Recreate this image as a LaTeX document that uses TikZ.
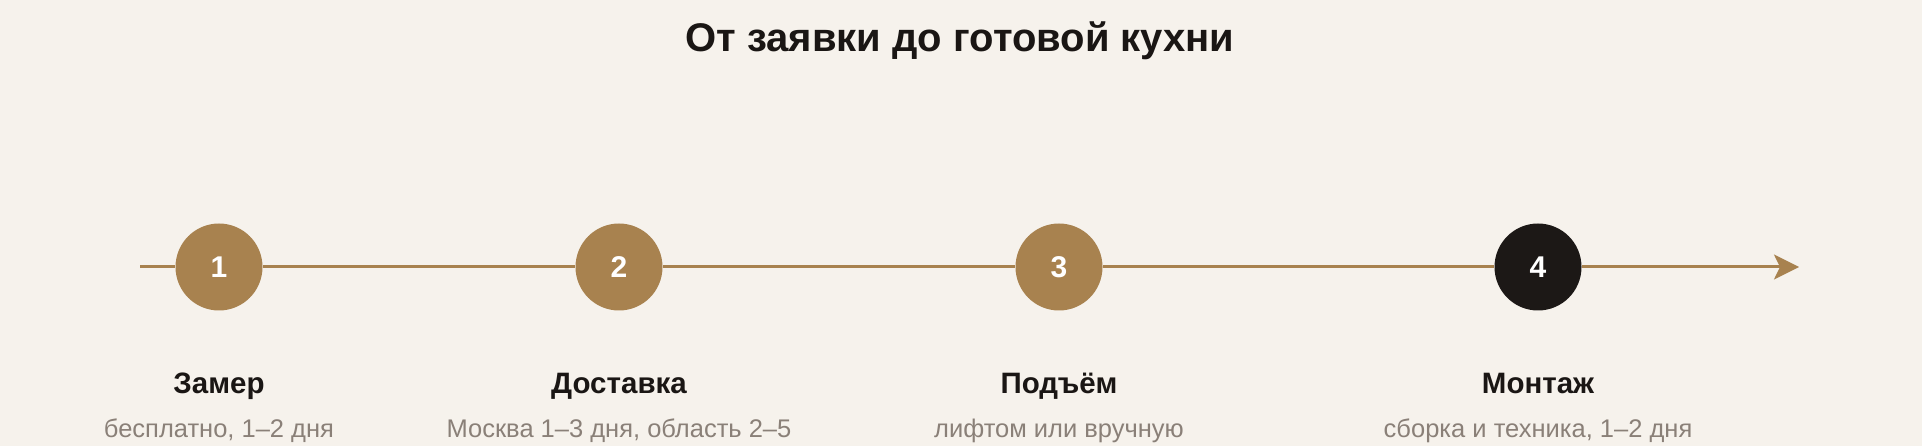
\documentclass[tikz,border=0pt]{standalone}
\usepackage{fontspec}
\setmainfont{Liberation Sans}
\usetikzlibrary{arrows.meta,positioning}
\definecolor{bgcol}{HTML}{F6F2EC}
\definecolor{brown}{HTML}{A8824F}
\definecolor{darkstep}{HTML}{1C1816}
\definecolor{inkcol}{HTML}{1A1614}
\definecolor{notecol}{HTML}{8A8078}
\begin{document}
\begin{tikzpicture}[x=1pt, y=-1pt,
    stepdot/.style={circle, fill=brown, minimum size=87pt, inner sep=0pt, text=white,
        font=\fontsize{30}{34}\selectfont\bfseries},
    steptitle/.style={anchor=base, text=inkcol, font=\fontsize{29.5}{34}\selectfont\bfseries},
    stepnote/.style={anchor=base, text=notecol, font=\fontsize{25.5}{30}\selectfont},
    timeline/.style={draw=brown, line width=3pt}]
\fill[bgcol] (0,0) rectangle (1922,446);
\useasboundingbox (0,0) rectangle (1922,446);

\node[anchor=base, text=inkcol, font=\fontsize{40}{48}\selectfont\bfseries] (title) at (960,52) {От заявки до готовой кухни};

\coordinate (start) at (140,267);
\coordinate (end) at (1799,267);

\foreach \x/\n/\col/\name/\note in {219/1/brown/Замер/{бесплатно, 1–2 дня},
    619/2/brown/Доставка/{Москва 1–3 дня, область 2–5},
    1059/3/brown/Подъём/{лифтом или вручную},
    1538/4/darkstep/Монтаж/{сборка и техника, 1–2 дня}}
{
    \node[stepdot, fill=\col] (s\n) at (\x,267) {\n};
    \node[steptitle] (t\n) at (\x,393) {\name};
    \node[stepnote] (n\n) at (\x,437) {\note};
}

\draw[timeline] (start) -- (s1);
\foreach \i [evaluate=\i as \ni using {int(\i+1)}] in {1,2,3}
    \draw[timeline] (s\i) -- (s\ni);
\draw[timeline, -{Stealth[length=25pt, width=25pt, inset=6pt]}] (s4) -- (end);

\end{tikzpicture}
\end{document}
